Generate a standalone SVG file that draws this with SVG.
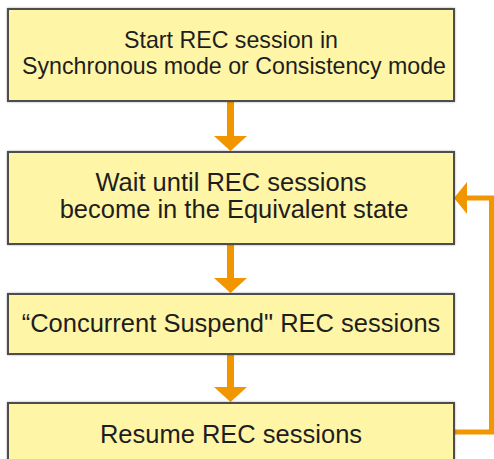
<svg xmlns="http://www.w3.org/2000/svg" width="494" height="459" viewBox="0 0 494 459">
<defs>
<style>
.box{fill:#FFF5A6;stroke:#4d4d4d;stroke-width:2}
.t{font-family:"Liberation Sans",Arial,sans-serif;fill:#1e1e1e;text-anchor:middle}
.c{fill:none;stroke:#F29600;stroke-width:7}
.l{fill:none;stroke:#F29600;stroke-width:5}
.h{fill:#F29600}
</style>
<filter id="sh" x="-5%" y="-5%" width="110%" height="110%">
<feDropShadow dx="0" dy="0" stdDeviation="1" flood-color="#000" flood-opacity="0.35"/>
</filter>
</defs>
<rect width="494" height="459" fill="#fff"/>
<g id="connectors">
<line class="c" x1="230.5" y1="102" x2="230.5" y2="137"/>
<polygon class="h" points="214,136 247,136 230.5,151"/>
<line class="c" x1="230.5" y1="245" x2="230.5" y2="279"/>
<polygon class="h" points="214,278 247,278 230.5,293"/>
<line class="c" x1="230.5" y1="355" x2="230.5" y2="388"/>
<polygon class="h" points="214,387 247,387 230.5,402"/>
<polyline class="l" points="455,432 491.5,432 491.5,198 466,198"/>
<polygon class="h" points="467,182 467,214 454,198"/>
</g>
<g id="n1">
<rect class="box" x="8" y="9" width="446" height="92" filter="url(#sh)"/>
<text class="t" x="231" y="48" font-size="23.2">Start REC session in</text>
<text class="t" x="234" y="74" font-size="23.2">Synchronous mode or Consistency mode</text>
</g>
<g id="n2">
<rect class="box" x="8" y="152" width="446" height="92" filter="url(#sh)"/>
<text class="t" x="231" y="191" font-size="25.5">Wait until REC sessions</text>
<text class="t" x="234" y="218" font-size="25.5">become in the Equivalent state</text>
</g>
<g id="n3">
<rect class="box" x="8" y="294" width="446" height="60" filter="url(#sh)"/>
<text class="t" x="231" y="332" font-size="25.5">“Concurrent Suspend" REC sessions</text>
</g>
<g id="n4">
<rect class="box" x="8" y="403" width="446" height="70" filter="url(#sh)"/>
<text class="t" x="231" y="443" font-size="25.5">Resume REC sessions</text>
</g>
</svg>
